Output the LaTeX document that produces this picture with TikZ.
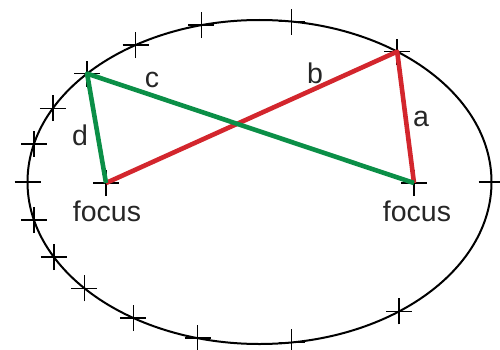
\documentclass[tikz,border=0pt]{standalone}
\usepackage{fontspec}
\setsansfont{Liberation Sans}
\usetikzlibrary{calc}
\definecolor{chordred}{HTML}{D3262D}
\definecolor{chordgreen}{HTML}{0B8F47}
\begin{document}
\begin{tikzpicture}[
  x=1pt, y=1pt,
  font=\sffamily\fontsize{28.5}{30}\selectfont,
  orbit/.style={draw=black, line width=2pt},
  pin/.style={draw=black, line width=1.4pt},
  redline/.style={draw=chordred, line width=4.6pt, line join=round},
  greenline/.style={draw=chordgreen, line width=4.6pt, line join=round},
  tag/.style={inner sep=0pt, text=black!85}
]
\useasboundingbox (0,0) rectangle (500,349);
% ellipse and the pins along it
\coordinate (centre) at (259.5,167);
\draw[orbit] (centre) ellipse [x radius=232pt, y radius=162pt];
\foreach \t in {0,53.6,82,104.5,122.3,138,152.9,166.4,180,193.6,207.6,221,237.1,254.5,278,307}
  \draw[pin] ({259.5+232*cos(\t)-13},{167+162*sin(\t)}) -- ++(26,0)
             ({259.5+232*cos(\t)},{167+162*sin(\t)-13}) -- ++(0,26);
% foci and the two string points
\coordinate (fleft) at (106,166);
\coordinate (fright) at (414,166);
\coordinate (tipb) at ({259.5+232*cos(53.6)},{167+162*sin(53.6)});
\coordinate (tipd) at ({259.5+232*cos(138)},{167+162*sin(138)});
\draw[pin] ($(fleft)+(-13,0)$) -- ++(26,0) ($(fleft)+(0,-13)$) -- ++(0,26);
\draw[pin] ($(fright)+(-13,0)$) -- ++(26,0) ($(fright)+(0,-13)$) -- ++(0,26);
\draw[redline] (fleft) -- (tipb) -- (fright);
\draw[greenline] (fleft) -- (tipd) -- (fright);
% labels
\node[tag] (lblc) at (152,269) {c};
\node[tag] (lblb) at (315,276) {b};
\node[tag] (lbla) at (421,230) {a};
\node[tag] (lbld) at (80,214) {d};
\node[tag] (focl) at (107,138) {focus};
\node[tag] (focr) at (417,138) {focus};
\end{tikzpicture}
\end{document}
